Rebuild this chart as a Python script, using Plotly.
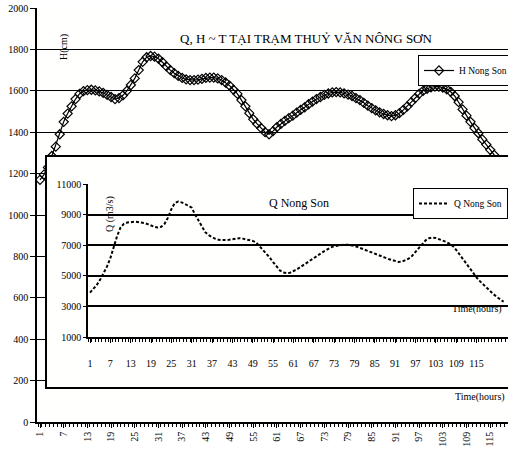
import plotly.graph_objects as go

# ---------------- data ----------------
time_hours = list(range(1, 124))

h_nong_son = [
    1170, 1195, 1230, 1285, 1330, 1390, 1450, 1490, 1525, 1560,
    1585, 1598, 1603, 1605, 1602, 1597, 1590, 1580, 1570, 1560,
    1565, 1578, 1600, 1628, 1660, 1700, 1740, 1762, 1768, 1765,
    1755, 1738, 1718, 1700, 1685, 1672, 1662, 1655, 1652, 1652,
    1654, 1658, 1662, 1664, 1664, 1660, 1652, 1640, 1625, 1605,
    1585, 1555, 1525, 1492, 1462, 1440, 1420, 1400, 1390, 1405,
    1425, 1440, 1455, 1468, 1480, 1495, 1508, 1520, 1535, 1548,
    1560, 1570, 1580, 1587, 1592, 1594, 1592, 1588, 1582, 1575,
    1565, 1555, 1542, 1528, 1516, 1505, 1496, 1488, 1482, 1478,
    1482, 1492, 1508, 1525, 1545, 1565, 1585, 1600, 1610, 1617,
    1620, 1620, 1615, 1607, 1595, 1575, 1545, 1510, 1480, 1450,
    1420, 1395, 1365, 1340, 1315, 1290, 1265, 1240, 1215, 1190,
    1165, 1140, 1115,
]

q_nong_son = [
    3900, 4150, 4400, 4750, 5150, 5600, 6150, 6900, 7600, 8150,
    8400, 8480, 8520, 8530, 8520, 8490, 8450, 8380, 8280, 8200,
    8150, 8200, 8400, 8800, 9350, 9750, 9850, 9800, 9700, 9580,
    9450, 9000, 8600, 8150, 7850, 7650, 7520, 7420, 7350, 7330,
    7340, 7350, 7400, 7450, 7460, 7430, 7390, 7340, 7280, 7180,
    6950, 6700, 6450, 6200, 5900, 5600, 5350, 5220, 5180, 5200,
    5300, 5420, 5560, 5700, 5850, 6000, 6150, 6300, 6450, 6600,
    6750, 6850, 6930, 6980, 7010, 7030, 7030, 7000, 6950, 6880,
    6800, 6720, 6640, 6560, 6470, 6380, 6280, 6190, 6100, 6020,
    5950, 5910, 5920, 6000, 6120, 6300, 6550, 6820, 7100, 7320,
    7460, 7500, 7470, 7400, 7320, 7220, 7100, 6950, 6700, 6400,
    6100, 5750, 5450, 5150, 4900, 4650, 4420, 4200, 3980, 3800,
    3620, 3450, 3300,
]

x_tick_vals = [1, 7, 13, 19, 25, 31, 37, 43, 49, 55, 61, 67, 73, 79, 85, 91, 97, 103, 109, 115]
x_tick_text = [str(v) for v in x_tick_vals]
h_tick_vals = [0, 200, 400, 600, 800, 1000, 1200, 1400, 1600, 1800, 2000]
q_tick_vals = [1000, 3000, 5000, 7000, 9000, 11000]
q_tick_text = [str(v) for v in q_tick_vals]

title_text = "Q, H ~ T TẠI TRẠM THUỶ VĂN NÔNG SƠN"

# ---------------- layout helpers ----------------
W, H = 508, 460
ML, MR, MT, MB = 37, 0, 8, 38
PW, PH = W - ML - MR, H - MT - MB


def xp(px):
    return (px - ML) / PW


def yp(py):
    return (H - MB - py) / PH


SERIF = "Liberation Serif"

fig = go.Figure()

# outer H trace
fig.add_trace(go.Scatter(
    x=time_hours, y=h_nong_son, name="H Nong Son", mode="lines+markers",
    line=dict(color="black", width=1.2),
    marker=dict(symbol="diamond-open", size=7, color="black", line=dict(width=1.2)),
    xaxis="x", yaxis="y", legend="legend", showlegend=True,
))

# inset box (empty subplot whose background hides outer chart)
fig.add_trace(go.Scatter(x=[], y=[], xaxis="x2", yaxis="y2", showlegend=False,
                         hoverinfo="skip"))

# inner Q trace
fig.add_trace(go.Scatter(
    x=time_hours, y=q_nong_son, name="Q Nong Son", mode="lines",
    line=dict(color="black", width=2, dash="3px,2px"),
    xaxis="x3", yaxis="y3", legend="legend2", showlegend=True,
))

axis_font = dict(family=SERIF, size=10, color="black")

fig.update_layout(
    width=W, height=H,
    showlegend=True,
    margin=dict(l=ML, r=MR, t=MT, b=MB, pad=0, autoexpand=False),
    paper_bgcolor="#ffffff",
    plot_bgcolor="#fffffe",
    font=dict(family=SERIF, size=10, color="black"),
    xaxis=dict(
        domain=[0, 1], range=[0.24, 119.5],
        tickmode="array", tickvals=x_tick_vals, ticktext=x_tick_text,
        tickangle=-90, tickfont=axis_font,
        ticks="outside", ticklen=4, tickcolor="black",
        minor=dict(dtick=1, tick0=0.5, ticks="outside", ticklen=3, tickcolor="black"),
        showline=True, linecolor="black", linewidth=1.5,
        showgrid=False, zeroline=False,
    ),
    yaxis=dict(
        domain=[0, 1], range=[0, 2000],
        tickmode="array", tickvals=h_tick_vals, tickfont=axis_font,
        ticks="outside", ticklen=5, tickcolor="black",
        showline=True, linecolor="black", linewidth=1.5,
        showgrid=True, gridcolor="black", gridwidth=1.3, zeroline=False,
    ),
    xaxis2=dict(
        domain=[xp(47), 1], range=[0, 1], anchor="y2",
        showline=True, mirror=True, linecolor="black", linewidth=1.5,
        showticklabels=False, ticks="", showgrid=False, zeroline=False,
    ),
    yaxis2=dict(
        domain=[yp(387), yp(157)], range=[0, 1], anchor="x2",
        showline=True, linecolor="black", linewidth=1.5,
        showticklabels=False, ticks="", showgrid=False, zeroline=False,
    ),
    xaxis3=dict(
        domain=[xp(88), 1], range=[0.41, 124.3], anchor="y3",
        tickmode="array", tickvals=x_tick_vals, ticktext=x_tick_text,
        tickangle=0, tickfont=axis_font, ticklabelstandoff=12,
        ticks="outside", ticklen=4, tickcolor="black",
        minor=dict(dtick=1, tick0=0.5, ticks="outside", ticklen=3, tickcolor="black"),
        showline=True, linecolor="black", linewidth=1.5,
        showgrid=False, zeroline=False,
    ),
    yaxis3=dict(
        domain=[yp(337), yp(184)], range=[1000, 11000], anchor="x3",
        tickmode="array", tickvals=q_tick_vals, ticktext=q_tick_text, tickfont=axis_font,
        ticks="outside", ticklen=3, tickcolor="black",
        showline=True, linecolor="black", linewidth=1.5,
        showgrid=True, gridcolor="black", gridwidth=1.6, zeroline=False,
    ),
    legend=dict(
        x=xp(418), y=yp(55), xanchor="left", yanchor="top",
        bgcolor="white", bordercolor="black", borderwidth=1,
        font=dict(family=SERIF, size=9.5), itemwidth=30,
        tracegroupgap=0,
    ),
    legend2=dict(
        x=xp(413), y=yp(188), xanchor="left", yanchor="top",
        bgcolor="white", bordercolor="black", borderwidth=1,
        font=dict(family=SERIF, size=9.5), itemwidth=30,
        tracegroupgap=0,
    ),
    annotations=[
        dict(text=title_text, x=xp(306), y=yp(38), xref="paper", yref="paper",
             showarrow=False, xanchor="center", yanchor="middle",
             font=dict(family=SERIF, size=13)),
        dict(text="H(cm)", x=xp(56), y=yp(32), xref="paper", yref="paper",
             showarrow=False, textangle=-90, font=dict(family=SERIF, size=10)),
        dict(text="Q Nong Son", x=xp(299), y=yp(203), xref="paper", yref="paper",
             showarrow=False, font=dict(family=SERIF, size=12)),
        dict(text="Q (m3/s)", x=xp(102), y=yp(214), xref="paper", yref="paper",
             showarrow=False, textangle=-90, font=dict(family=SERIF, size=10)),
        dict(text="Time(hours)", x=xp(504), y=yp(317), xref="paper", yref="paper",
             showarrow=False, xanchor="right", font=dict(family=SERIF, size=10)),
        dict(text="Time(hours)", x=xp(507), y=yp(405), xref="paper", yref="paper",
             showarrow=False, xanchor="right", font=dict(family=SERIF, size=10)),
    ],
)

fig.write_html("out.html", config={"displayModeBar": False},
               post_script="document.body.style.margin='0px';")
